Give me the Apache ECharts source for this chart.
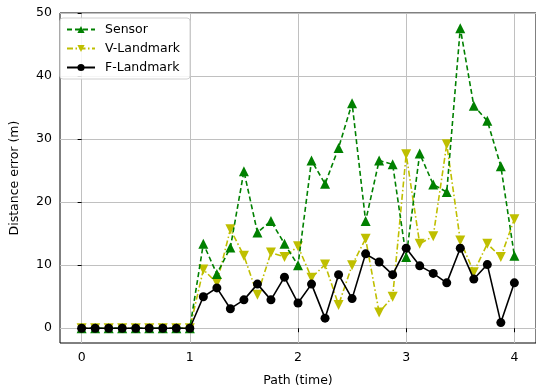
<!DOCTYPE html>
<html>
<head>
<meta charset="utf-8">
<script src="https://cdn.jsdelivr.net/npm/echarts@6/dist/echarts.min.js"></script>
<style>
	html, body { margin: 0; padding: 0; background: #fff; }
	#chart { width: 536px; height: 392px; }
</style>
</head>
<body>
<div id="chart"></div>
<script>
// path positions (time)
var pathTimes = [0, 0.125, 0.25, 0.375, 0.5, 0.625, 0.75, 0.875,
	1, 1.125, 1.25, 1.375, 1.5, 1.625, 1.75, 1.875,
	2, 2.125, 2.25, 2.375, 2.5, 2.625, 2.75, 2.875,
	3, 3.125, 3.25, 3.375, 3.5, 3.625, 3.75, 3.875, 4];

var sensor = [0, 0, 0, 0, 0, 0, 0, 0,
	0, 13.4, 8.6, 12.8, 24.9, 15.2, 17, 13.4,
	10, 26.6, 22.9, 28.6, 35.7, 17, 26.6, 26,
	11.3, 27.7, 22.8, 21.6, 47.6, 35.3, 32.9, 25.7, 11.5];

var vLandmark = [0, 0, 0, 0, 0, 0, 0, 0,
	0, 9.3, 7.2, 15.7, 11.5, 5.3, 12, 11.3,
	13, 8, 10.1, 3.7, 10, 14.2, 2.5, 5,
	27.6, 13.4, 14.6, 29.2, 13.9, 8.9, 13.4, 11.3, 17.3];

var fLandmark = [0, 0, 0, 0, 0, 0, 0, 0,
	0, 5, 6.4, 3.1, 4.5, 7, 4.5, 8.1,
	4, 7, 1.6, 8.5, 4.7, 11.8, 10.5, 8.5,
	12.7, 9.9, 8.7, 7.2, 12.7, 7.8, 10.1, 0.9, 7.2];

var xTicks = [0, 1, 2, 3, 4];
var yTicks = [0, 10, 20, 30, 40, 50];

function pairs(ys) {
	return pathTimes.map(function(t, i) { return [t, ys[i]]; });
}

var myChart = echarts.init(document.getElementById('chart'));
var font = 'DejaVu Sans';
var option = {
	animation: false,
	textStyle: { fontFamily: font },
	grid: {
		left: 54, top: 13, right: 0, bottom: 43,
		show: true, borderColor: '#000', borderWidth: 1
	},
	legend: {
		orient: 'vertical',
		left: 60, top: 18,
		backgroundColor: 'rgba(255,255,255,0.85)',
		borderColor: '#d0d0d0', borderWidth: 1, borderRadius: 3,
		padding: [5, 10, 5, 6],
		itemWidth: 28, itemHeight: 9, itemGap: 6,
		textStyle: { fontFamily: font, fontSize: 12.5, color: '#000', padding: [0, 0, 0, 5] },
		data: ['Sensor', 'V-Landmark', 'F-Landmark']
	},
	xAxis: {
		type: 'value', min: -0.2, max: 4.2,
		name: 'Path (time)', nameLocation: 'middle', nameGap: 31,
		nameTextStyle: { fontFamily: font, fontSize: 12.5, color: '#000' },
		axisLine: { show: false },
		axisTick: { show: true, length: 4, lineStyle: { color: '#000' }, customValues: xTicks },
		axisLabel: { fontFamily: font, fontSize: 12.5, color: '#000', margin: 8, customValues: xTicks },
		splitLine: { show: true, lineStyle: { color: '#c0c0c0', width: 1 } }
	},
	yAxis: {
		type: 'value', min: -2.34, max: 50,
		name: 'Distance error (m)', nameLocation: 'middle', nameGap: 39, nameRotate: 90,
		nameTextStyle: { fontFamily: font, fontSize: 12.5, color: '#000' },
		axisLine: { show: false },
		axisTick: { show: true, length: 4, lineStyle: { color: '#000' }, customValues: yTicks },
		axisLabel: { fontFamily: font, fontSize: 12.5, color: '#000', margin: 8, customValues: yTicks },
		splitLine: { show: true, lineStyle: { color: '#c0c0c0', width: 1 } }
	},
	series: [{
		name: 'Sensor',
		type: 'line',
		data: pairs(sensor),
		symbol: 'triangle', symbolSize: 10,
		itemStyle: { color: '#008000' },
		lineStyle: { color: '#008000', width: 1.6, type: [5, 3] },
		z: 3
	}, {
		name: 'V-Landmark',
		type: 'line',
		data: pairs(vLandmark),
		symbol: 'triangle', symbolSize: 10, symbolRotate: 180,
		itemStyle: { color: '#bfbf00' },
		lineStyle: { color: '#bfbf00', width: 1.6, type: [6, 2.5, 1.5, 2.5] },
		z: 2
	}, {
		name: 'F-Landmark',
		type: 'line',
		data: pairs(fLandmark),
		symbol: 'circle', symbolSize: 9,
		itemStyle: { color: '#000' },
		lineStyle: { color: '#000', width: 1.6 },
		z: 4
	}]
};
myChart.setOption(option);
</script>
</body>
</html>
